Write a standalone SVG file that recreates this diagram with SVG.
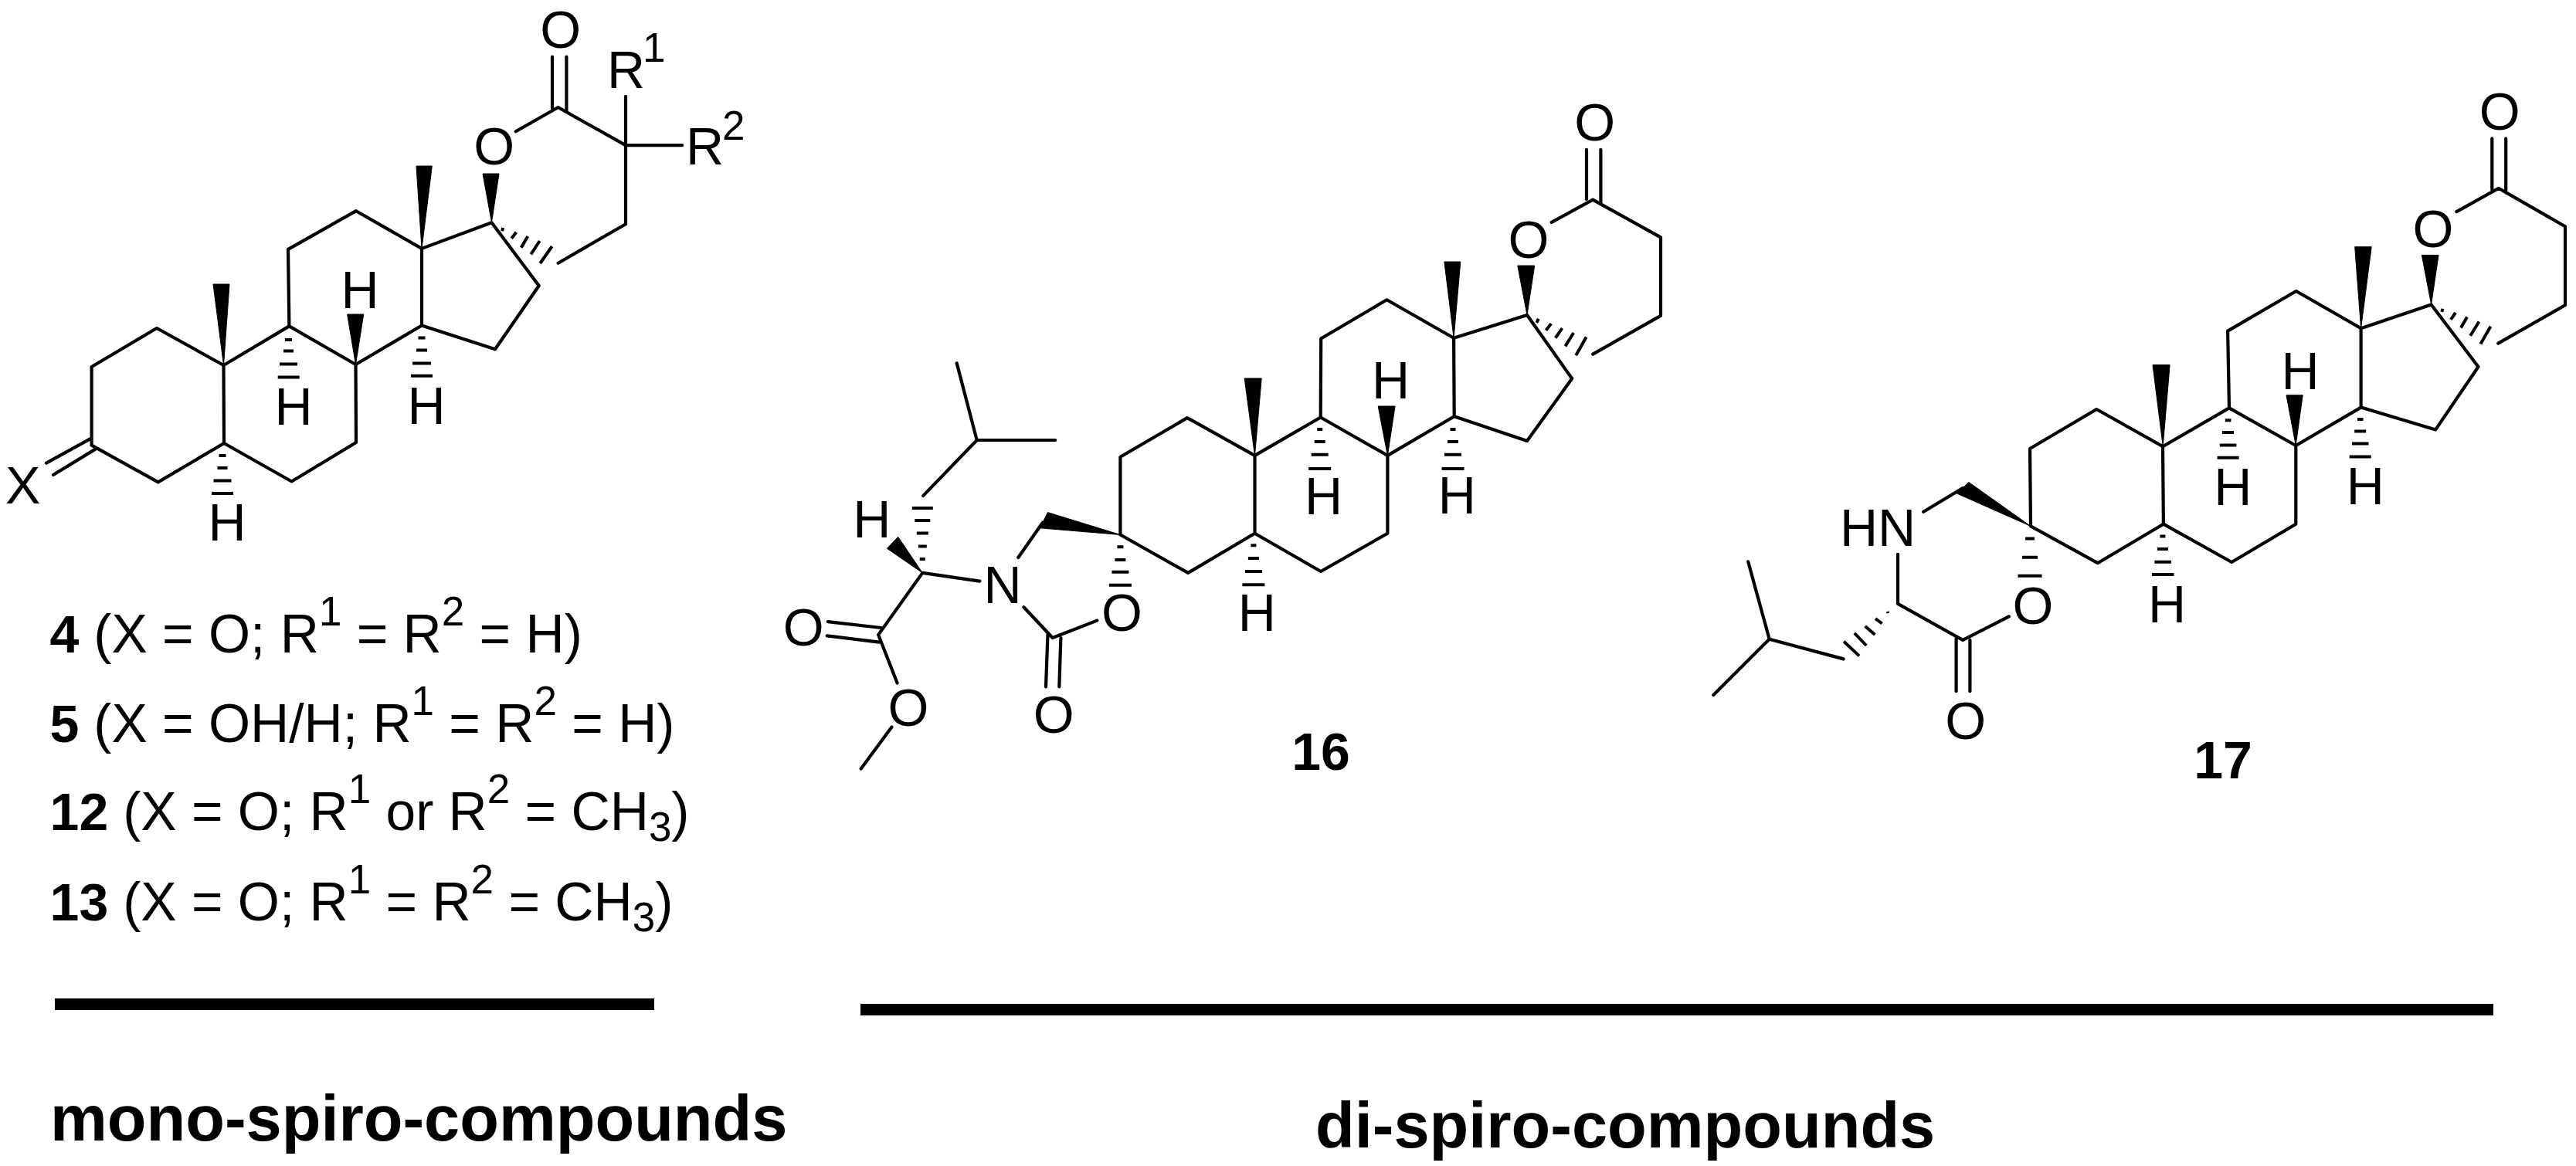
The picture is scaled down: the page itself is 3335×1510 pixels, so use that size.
<svg xmlns="http://www.w3.org/2000/svg" width="3335" height="1510" viewBox="0 0 3335 1510">
<style>
.b{fill:none;stroke:#000;stroke-width:4.2;stroke-linejoin:round;stroke-linecap:round}
.d{fill:none;stroke:#000;stroke-width:4;stroke-linecap:butt}
.w{fill:#000;stroke:#000;stroke-width:1}
text{font-family:"Liberation Sans",Arial,sans-serif;fill:#000}
.a{font-size:68px;text-anchor:middle}
.s{font-size:53px}
.t{font-size:68px}
.l{font-size:69.5px}
.n{font-size:68px;font-weight:bold}
.h{font-size:83px;font-weight:bold}
</style>
<rect width="3335" height="1510" fill="#fff"/>
<g id="compound-mono">
<path class="b" d="M118.6 576.7V475L203 425L289.5 473L290 574L204.7 624.4L118.6 576.7M289.5 473L374.4 422.4L460.5 472L461 573L377.6 623.5L290 574M374.4 422.4L373 322.8L461 273.2L546 321.9V421.5L460.5 472M546 321.9L636.5 288.3L697.7 370L641 452.2L546 421.5M667.7 170.3L722.6 139L810 188.2V290.2L722.6 340.7M810 124.9V188.2H883M60 599.6L116.7 568.4M68.9 615L125.6 580.4M715 73.5V140M733.4 73.5V144.6"/>
<path class="w" d="M546 322L539 215H559.3ZM289.5 473L276 368H297ZM636.5 288L625 225H646ZM460.5 472L449.6 407H470.7Z"/>
<path class="d" d="M369 440H378M367 454.5H380M362 471.5H385M359.7 488.5H387.7M541.5 437.6H550.5M539 453.6H553M534 470.6H558M532 486.7H560M283.5 590H292.5M281.5 606H294.5M276.5 622.6H299.5M274 639H302M651 295L650.3 299.3M668.3 300.7L662.3 308.7M683.3 306L674.7 320.7M698.7 312L687.3 329.3M714.7 319L699.3 341"/>
<text class="a" x="725.8" y="62">O</text><text class="a" x="639.7" y="213">O</text>
<text class="t" x="786" y="113.9">R</text><text class="s" x="832" y="80.3">1</text>
<text class="t" x="888" y="213">R</text><text class="s" x="935" y="181.4">2</text>
<text class="t" x="7" y="652">X</text>
<text class="a" x="466" y="398.5">H</text><text class="a" x="380" y="549.6">H</text><text class="a" x="552" y="548.7">H</text><text class="a" x="294" y="700">H</text>
</g>
<g id="legend">
<text class="l" x="64.6" y="845"><tspan class="n">4 </tspan>(X = O; R<tspan class="s" dy="-35">1</tspan><tspan dy="35"> = R</tspan><tspan class="s" dy="-35">2</tspan><tspan dy="35"> = H)</tspan></text>
<text class="l" x="64.6" y="961"><tspan class="n">5 </tspan>(X = OH/H; R<tspan class="s" dy="-35">1</tspan><tspan dy="35"> = R</tspan><tspan class="s" dy="-35">2</tspan><tspan dy="35"> = H)</tspan></text>
<text class="l" x="64.6" y="1075"><tspan class="n">12 </tspan>(X = O; R<tspan class="s" dy="-35">1</tspan><tspan dy="35"> or R</tspan><tspan class="s" dy="-35">2</tspan><tspan dy="35"> = CH</tspan><tspan class="s" dy="14">3</tspan><tspan dy="-14">)</tspan></text>
<text class="l" x="64.6" y="1192"><tspan class="n">13 </tspan>(X = O; R<tspan class="s" dy="-35">1</tspan><tspan dy="35"> = R</tspan><tspan class="s" dy="-35">2</tspan><tspan dy="35"> = CH</tspan><tspan class="s" dy="14">3</tspan><tspan dy="-14">)</tspan></text>
<rect x="71" y="1293" width="776" height="15"/>
<text class="h" x="65" y="1477">mono-spiro-compounds</text>
</g>
<g id="compound-16">
<path class="b" d="M1450.4 692.5V591.7L1537.1 541.1L1624.5 589.9V690.7L1538.2 741.9L1450.4 692.5M1624.5 589.9L1709.7 540.5L1796.4 589.9V690.7L1710 740L1624.5 690.7M1709.7 540.5L1710.2 438.5L1795.4 388.3L1882.1 437.7L1882.7 539.3L1796.4 589.9M1882.1 437.7L1977 408L2035.2 490.3L1977 570.9L1882.7 539.3M2008.7 287.9L2062.2 258.7L2150 307.3V408.9L2062.2 458.7M2054 193.8V257.9M2072.4 193.8V262.6M1349.9 676.7L1318.3 722M1325.4 786.2L1362.7 826L1420.3 803.6M1356.5 821L1354 889.3M1373.4 826L1371.3 889.3M1268.3 752.6L1194.3 741.9L1137.1 822.1L1161.6 884.6M1071.8 805.1L1140.7 813M1070.8 823.3L1138.2 831.6M1154.5 941.5L1114.7 995.6M1195.3 641.9L1264.7 570L1238.7 470.4M1264.7 570H1366.2"/>
<path class="w" d="M1882.1 437.7L1869.9 339H1890.8ZM1977 408L1964.8 344H1986.7ZM1624.5 590L1611.2 490H1633.2ZM1796.4 590L1784.2 526H1806.1ZM1450.4 692.5L1356.5 663.6L1346.3 683.8ZM1194.3 741.9L1162.7 695.3L1148.4 710.3Z"/>
<path class="d" d="M1705.2 555.9H1712.2M1701.7 572.1H1715.7M1697.7 588.7H1719.7M1694.2 606.9H1723.2M1877.5 555.9H1884.5M1874 572.1H1888M1870 588.7H1892M1866.5 606.9H1895.5M1446.4 708.3H1454.4M1443.4 724.9H1457.4M1439.4 740.7H1461.4M1435.9 757.7H1464.9M1619.4 706.3H1626.4M1615.9 722.9H1629.9M1611.9 739.9H1633.9M1608.4 757.3H1637.4M1190.8 724.1H1197.8M1188.8 707.5H1199.8M1186.8 690.5H1201.8M1184.3 673.9H1204.3M1180.8 658.1H1207.8M1991.8 412.8L1989.3 417.9M2008.2 419.1L2001.5 427.8M2022.4 425L2013.8 437.7M2037.2 431L2026.5 448.4M2053.6 436.5L2040.3 460.2"/>
<text class="a" x="2064.8" y="182">O</text><text class="a" x="1979" y="333.8">O</text><text class="a" x="1298" y="780.6">N</text><text class="a" x="1452.4" y="817.4">O</text><text class="a" x="1364.2" y="949.4">O</text><text class="a" x="1040.2" y="836">O</text><text class="a" x="1175.9" y="940.3">O</text>
<text class="a" x="1800.5" y="516">H</text><text class="a" x="1713.5" y="666">H</text><text class="a" x="1886.4" y="665">H</text><text class="a" x="1627.3" y="817.4">H</text><text class="a" x="1128.7" y="696.4">H</text>
<text class="n" text-anchor="middle" x="1710" y="996.8">16</text>
</g>
<g id="compound-17">
<path class="b" d="M2629 681.4L2628 581L2714.3 530L2800 578.2L2800.9 678.7L2715.7 729.2L2629 681.4M2800 578.2L2886 528.4L2972.3 577V678.7L2889.2 728L2800.9 678.7M2886 528.4L2884.1 428.6L2972.7 377L3056.6 425.2V527.6L2972.3 577M3056.6 425.2L3147.6 394.4L3208.5 475L3153.2 556.4L3056.6 527.6M3180.4 274.2L3234.8 243.8L3321 293.2V395.2L3234.3 444.6M3226.3 179.4V245.8M3244.2 179.4V249.7M2541.2 632L2490.2 662.8M2457 717.8V781.8L2541.2 828.9L2600.9 798.4M2532.6 826.9V895.2M2550.4 828.9V895.2M2386.6 853.4L2290.7 827.7L2263.2 727.3M2290.7 827.7L2218.3 900"/>
<path class="w" d="M3056.6 425.2L3048.7 319.7H3070.2ZM3147.6 394.4L3135.4 330.4H3157ZM2800.2 577.8L2787 472.6H2809.1ZM2972.2 576.6L2960 511.8H2981.2ZM2629 681.4L2548.9 624.5L2533.6 639.1Z"/>
<path class="d" d="M2880.8 544.2H2888.4M2877 560H2892M2873.8 576.6H2895.4M2870.6 592.8H2898.6M3052 543H3059.5M3048.2 558.4H3063.2M3045 574.6H3066.5M3041.7 591.6H3069.7M2622 697.6H2634M2618 721.7H2638M2612.5 745.8H2643.5M2796.4 694.5H2803.4M2792.9 711H2806.9M2789.4 727.7H2810.9M2785.9 743.9H2814.4M2443.8 792L2444.4 794M2428 801.2L2436.6 807.5M2414.7 811L2427.4 822.1M2400.9 819.8L2416.2 836M2387.1 830.8L2407 849.4M3162.6 399.9L3161.2 403.9M3179 405L3172.9 413.8M3194 410.6L3186 424.4M3209.5 416.5L3198.2 434.7M3224.5 422.8L3211.4 445.4"/>
<text class="a" x="3236.2" y="167.5">O</text><text class="a" x="3150" y="319.7">O</text><text class="t" x="2382" y="707.1">HN</text><text class="a" x="2632" y="807.5">O</text><text class="a" x="2544.8" y="956.5">O</text>
<text class="a" x="2978" y="503.5">H</text><text class="a" x="2890.7" y="654">H</text><text class="a" x="3062.2" y="652.5">H</text><text class="a" x="2805.5" y="805.5">H</text>
<text class="n" text-anchor="middle" x="2878" y="1007.5">17</text>
</g>
<g id="legend-di">
<rect x="1114" y="1300" width="2114" height="15"/>
<text class="h" x="1703" y="1486">di-spiro-compounds</text>
</g>
</svg>
